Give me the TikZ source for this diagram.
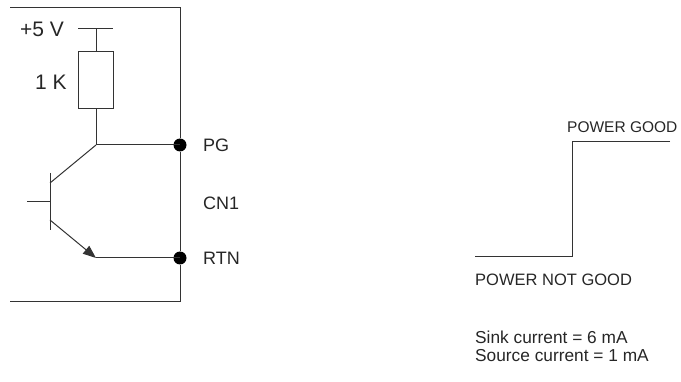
\documentclass[tikz,border=0pt]{standalone}
\usepackage{fontspec}
\setmainfont{Liberation Sans}
\usetikzlibrary{arrows.meta}
\begin{document}
\begin{tikzpicture}[x=1pt,y=-1pt,
  wire/.style={line width=1pt,draw=black!80},
  lbl/.style={inner sep=0pt,anchor=west,font=\fontsize{16.5}{19}\selectfont,text=black!85},
  biglbl/.style={lbl,font=\fontsize{21}{24}\selectfont},
  conlbl/.style={lbl,font=\fontsize{18}{21}\selectfont},
  notelbl/.style={lbl,font=\fontsize{17.3}{20}\selectfont},
  dot/.style={circle,fill=black,inner sep=0pt,minimum size=13pt}]
\useasboundingbox (0,0) rectangle (681,382);
% enclosure
\coordinate (tl) at (10,8);
\coordinate (tr) at (180,8);
\coordinate (br) at (180,302);
\coordinate (bl) at (10,302);
\node[dot] (pg) at (180,145) {};
\node[dot] (rtn) at (180,258) {};
\draw[wire] (tl) -- (tr) -- (pg) -- (rtn) -- (br) -- (bl);
% supply
\coordinate (barL) at (78,29);
\coordinate (barR) at (113,29);
\coordinate (barM) at (96,29);
\draw[wire] (barL) -- (barR);
\node[biglbl] (v5) at (20,29) {+5 V};
\node[draw=black!80,line width=1pt,minimum width=35pt,minimum height=57pt,inner sep=0pt] (res) at (96,80.5) {};
\node[biglbl] (k1) at (35,82) {1 K};
\coordinate (col) at (96,145);
\draw[wire] (barM) -- (res.north);
\draw[wire] (res.south) -- (col) -- (pg.center);
% transistor
\coordinate (bt) at (50,173);
\coordinate (bb) at (50,230);
\coordinate (bin) at (27,202);
\coordinate (bm) at (50,202);
\coordinate (cb) at (50,183);
\coordinate (eb) at (50,220);
\coordinate (em) at (96,258);
\draw[wire] (bt) -- (bb);
\draw[wire] (bin) -- (bm);
\draw[wire] (cb) -- (col);
\draw[wire,-{Triangle[length=13pt,width=10pt]}] (eb) -- (em);
\draw[wire] (em) -- (rtn.center);
\node[conlbl] (pgl) at (203,145) {PG};
\node[conlbl] (cn1) at (203,203) {CN1};
\node[conlbl] (rtnl) at (203,258) {RTN};
% timing
\coordinate (g1) at (670,142);
\coordinate (g2) at (572,142);
\coordinate (g3) at (572,257);
\coordinate (g4) at (475,257);
\draw[wire] (g1) -- (g2) -- (g3) -- (g4);
\node[lbl,font=\fontsize{15.5}{18}\selectfont] (good) at (567,127) {POWER GOOD};
\node[lbl] (ngood) at (475,280) {POWER NOT GOOD};
\node[notelbl] (sink) at (475,337) {Sink current = 6 mA};
\node[notelbl] (src) at (475,356) {Source current = 1 mA};
\end{tikzpicture}
\end{document}
